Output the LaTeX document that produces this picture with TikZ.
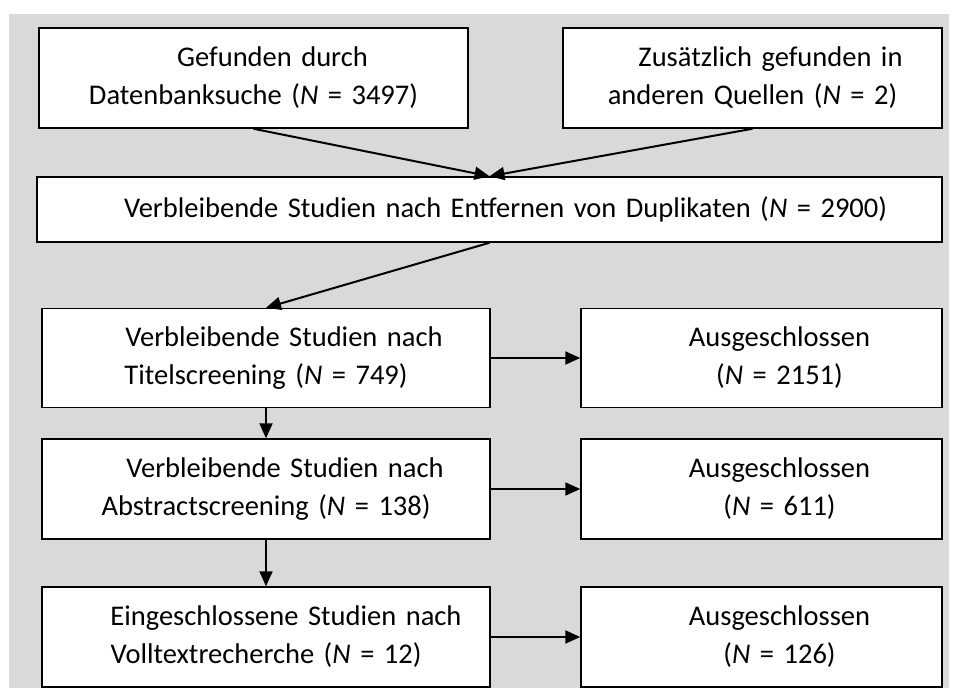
\documentclass[tikz,border=0pt]{standalone}
\usepackage{fontspec}
\setmainfont{Carlito}
\usetikzlibrary{arrows.meta}
\definecolor{bggray}{HTML}{D9D9D9}
\begin{document}
\begin{tikzpicture}[x=1pt,y=-1pt,
  box/.style={draw=black, line width=1.5pt, fill=white, inner sep=0pt, align=center,
    font=\fontsize{28.5}{38}\selectfont},
  arr/.style={line width=2pt, -{Triangle[length=15pt,width=13pt]}}]
\useasboundingbox (0,0) rectangle (956,688);
\fill[bggray] (9,14) rectangle (949,688);
\node[box, text width=429pt, minimum height=100pt] (b1) at (253.5,78)
  {\hspace*{38pt}Gefunden durch\\Datenbanksuche (\textit{N} = 3497)};
\node[box, text width=379pt, minimum height=100pt] (b2) at (752.5,78)
  {\hspace*{36pt}Zusätzlich gefunden in\\anderen Quellen (\textit{N} = 2)};
\node[box, text width=905pt, minimum height=65pt] (b3) at (489.5,209.5)
  {\hspace*{32pt}Verbleibende Studien nach Entfernen von Duplikaten (\textit{N} = 2900)};
\node[box, text width=448pt, minimum height=99pt] (t) at (266,358)
  {\hspace*{36pt}Verbleibende Studien nach\\Titelscreening (\textit{N} = 749)};
\node[box, text width=361pt, minimum height=99pt] (e1) at (761.5,358)
  {\hspace*{36pt}Ausgeschlossen\\\hspace*{36pt}(\textit{N} = 2151)};
\node[box, text width=448pt, minimum height=100pt] (a) at (266,489)
  {\hspace*{38pt}Verbleibende Studien nach\\Abstractscreening (\textit{N} = 138)};
\node[box, text width=361pt, minimum height=100pt] (e2) at (761.5,489)
  {\hspace*{36pt}Ausgeschlossen\\\hspace*{36pt}(\textit{N} = 611)};
\node[box, text width=448pt, minimum height=100pt] (f) at (266,637)
  {\hspace*{40pt}Eingeschlossene Studien nach\\Volltextrecherche (\textit{N} = 12)};
\node[box, text width=361pt, minimum height=100pt] (e3) at (761.5,637)
  {\hspace*{36pt}Ausgeschlossen\\\hspace*{36pt}(\textit{N} = 126)};
\draw[arr] (b1.south) -- (b3.north);
\draw[arr] (b2.south) -- (b3.north);
\draw[arr] (b3.south) -- (t.north);
\draw[arr] (t.south) -- (a.north);
\draw[arr] (a.south) -- (f.north);
\draw[arr] (t.east) -- (e1.west);
\draw[arr] (a.east) -- (e2.west);
\draw[arr] (f.east) -- (e3.west);
\end{tikzpicture}
\end{document}
